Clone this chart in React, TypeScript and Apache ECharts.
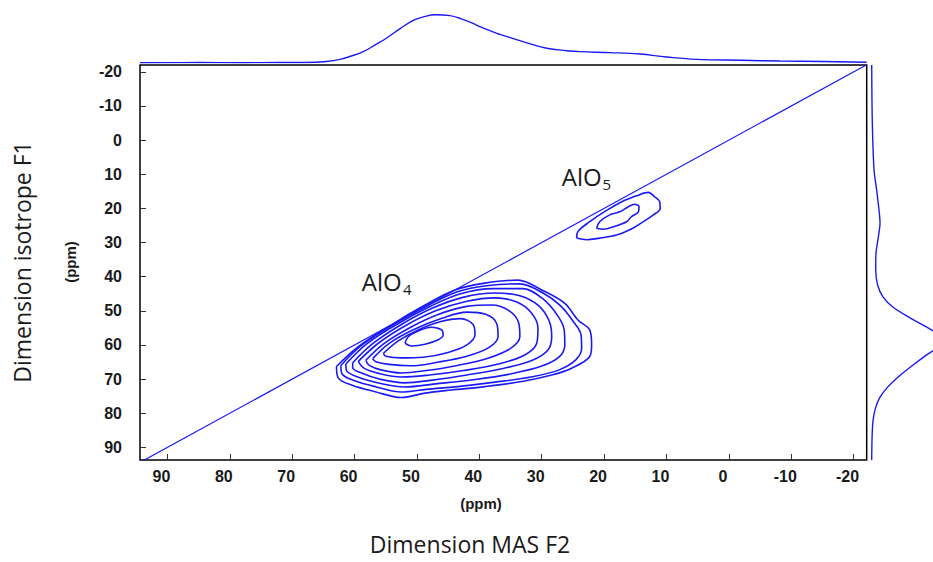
import React, { useEffect, useRef } from "react";
import * as echarts from "echarts";

// Axis ticks (ppm)
const tickValues = [-20, -10, 0, 10, 20, 30, 40, 50, 60, 70, 80, 90];
const f2Min = -22.1;
const f2Max = 94.4;
const f1Min = -22;
const f1Max = 93.7;

// Diagonal (F1 = F2)
const diagonal = [
  [-22.1, -22.1],
  [94.4, 94.4],
];

// Top projection (F2 ppm, relative intensity)
const topProjection = [
  [94.4, 0], [85, 0.3], [78, 0], [72, 0.4], [67.7, 0.3], [64.5, 2.5], [62.3, 7], [60.5, 14],
  [58.6, 23], [56.7, 37], [54.9, 51], [52.7, 71], [50.6, 88], [48.8, 96], [47.1, 100],
  [44.7, 98], [43, 92], [41.0, 82], [39.9, 75], [37.2, 61], [36.7, 59], [33.0, 44],
  [29.2, 30], [26, 25], [23.9, 23], [19, 21], [14.3, 18], [10, 12], [5.2, 7],
  [-2, 5], [-8.2, 3.5], [-15, 2.5], [-22.1, 1],
];

// Right projection (relative intensity, F1 ppm)
const rightProjection = [
  [0, -22], [0.9, -5], [3.3, 8.7], [7, 14.6], [10.8, 21.3], [11.8, 24.3], [9.4, 28.4],
  [6.1, 33.1], [5.7, 38], [8.5, 42.5], [16, 45.9], [30, 48.9], [52, 51.8],
  [80, 55.0], [96, 57.2], [100, 58.8], [96, 60.4], [80, 62.6], [56, 66.3], [38, 69.3],
  [22, 72.5], [11, 75.6], [5, 78.8], [2, 82], [0.6, 86.5], [0, 93.7],
];

// AlO4 contours (F2 ppm, F1 ppm), inner to outer
const alo4Level1 = [
  [51.9, 59.5], [51.4, 57.6], [49.8, 55.9], [47.65, 54.8], [46.05, 55.6], [45.8, 57.1],
  [46.6, 58.5], [48.7, 59.8], [50.9, 60.3], [51.9, 59.5],
];
const alo4Level2 = [
  [55.4, 62.5], [53.0, 58.8], [49.8, 55.6], [46.3, 53.2], [43.0, 52.3], [41.0, 54.0],
  [40.7, 57.0], [42.0, 60.0], [45.0, 62.2], [49.0, 63.6], [52.5, 63.8], [55.0, 63.3],
  [55.4, 62.5],
];
const alo4Level3 = [
  [57.1, 64.0], [54.5, 59.6], [50.5, 55.5], [46.0, 52.2], [42.0, 50.4], [39.0, 51.0],
  [37.2, 53.8], [37.0, 57.5], [38.5, 60.8], [42.0, 63.3], [46.5, 65.0], [51.0, 66.1],
  [54.5, 65.7], [56.6, 64.9], [57.1, 64.0],
];
const alo4Level4 = [
  [58.2, 64.5], [55.3, 59.6], [51.0, 54.8], [46.5, 51.0], [42.0, 48.7], [38.0, 48.3],
  [35.2, 50.0], [33.7, 53.5], [33.5, 57.5], [35.0, 61.0], [38.5, 63.8], [43.5, 66.0],
  [48.5, 67.5], [52.5, 68.2], [55.8, 67.3], [57.7, 65.9], [58.2, 64.5],
];
const alo4Level5 = [
  [59.4, 64.8], [56.2, 59.5], [51.8, 54.3], [47.0, 50.0], [42.0, 47.2], [37.5, 46.2],
  [34.0, 47.4], [31.7, 50.5], [30.6, 55.0], [30.8, 59.5], [32.8, 63.0], [37.0, 65.6],
  [42.5, 67.5], [48.0, 68.8], [52.5, 69.4], [56.0, 68.4], [58.5, 66.8], [59.4, 64.8],
];
const alo4Level6 = [
  [60.3, 65.2], [57.0, 59.5], [52.3, 53.8], [47.5, 49.2], [42.5, 46.0], [37.5, 44.8],
  [33.5, 45.6], [30.5, 48.5], [28.8, 53.0], [28.4, 57.5], [29.0, 61.5], [31.5, 64.5],
  [36.0, 66.8], [42.0, 68.8], [47.5, 70.3], [52.0, 71.1], [56.0, 70.0], [58.8, 68.3],
  [60.3, 66.7], [60.3, 65.2],
];
const alo4Level7 = [
  [61.4, 65.6], [58.0, 59.6], [53.0, 53.7], [48.0, 48.8], [43.0, 45.0], [37.8, 43.5],
  [33.0, 43.5], [29.8, 46.5], [27.6, 51.0], [26.4, 55.5], [26.3, 60.0], [27.2, 63.5],
  [30.0, 66.2], [35.0, 68.5], [41.0, 70.2], [47.0, 71.4], [52.0, 72.3], [56.0, 71.2],
  [59.5, 69.4], [61.3, 67.5], [61.4, 65.6],
];
const alo4Level8 = [
  [62.2, 66.0], [58.8, 60.0], [53.6, 53.8], [48.3, 48.5], [43.5, 44.4], [38.5, 42.6],
  [33.5, 42.1], [29.8, 44.8], [27.0, 48.5], [25.0, 53.0], [23.7, 57.0], [23.6, 61.0],
  [24.5, 64.3], [27.2, 67.3], [31.5, 69.3], [37.5, 70.9], [43.5, 72.2], [48.5, 73.0],
  [52.5, 73.8], [56.5, 72.3], [60.0, 70.5], [62.0, 68.5], [62.2, 66.0],
];
const alo4Level9 = [
  [62.9, 66.3], [59.4, 60.5], [54.1, 54.1], [48.7, 48.3], [43.9, 43.9], [39.1, 41.9],
  [33.8, 41.0], [30.0, 43.9], [26.3, 47.8], [24.2, 52.7], [22.3, 55.6], [22.0, 60.0],
  [22.3, 63.4], [25.2, 66.8], [28.4, 68.8], [33.2, 70.7], [39.1, 72.2], [44.5, 73.2],
  [48.7, 74.1], [52.5, 75.4], [56.7, 73.7], [60.5, 71.7], [62.6, 69.7], [62.9, 66.3],
];

// AlO5 contours (F2 ppm, F1 ppm)
const alo5Inner = [
  [21.2, 25.8], [20.7, 23.9], [19.1, 21.9], [17.5, 21.0], [16.1, 19.5], [15.1, 18.8],
  [14.4, 19.5], [14.5, 21.0], [15.6, 22.4], [16.4, 23.9], [18.5, 25.4], [20.2, 26.1],
  [21.2, 25.8],
];
const alo5Outer = [
  [24.4, 28.7], [24.2, 26.8], [22.3, 23.9], [19.6, 20.6], [17.0, 17.9], [14.8, 16.3],
  [12.9, 15.3], [11.9, 16.6], [11.1, 18.0], [11.0, 20.0], [12.1, 21.9], [13.7, 23.9],
  [15.4, 25.8], [18.0, 27.8], [20.7, 28.7], [22.8, 29.2], [24.4, 28.7],
];

const alo4Contours = [
  alo4Level1, alo4Level2, alo4Level3, alo4Level4, alo4Level5,
  alo4Level6, alo4Level7, alo4Level8, alo4Level9,
];
const alo5Contours = [alo5Inner, alo5Outer];

const BLUE = "#1a1af5";

export default function App() {
  const ref = useRef<HTMLDivElement>(null);

  useEffect(() => {
    if (!ref.current) return;
    const chart = echarts.init(ref.current, undefined, { renderer: "svg" });

    const lineSeries = (
      name: string,
      data: number[][],
      idx: number,
      width: number,
      smooth: number | boolean
    ) => ({
      type: "line",
      name,
      data,
      xAxisIndex: idx,
      yAxisIndex: idx,
      showSymbol: false,
      symbol: "none",
      smooth,
      clip: true,
      silent: true,
      lineStyle: { color: BLUE, width },
    });

    const tickLabel = {
      fontFamily: "'Liberation Sans', Arial, sans-serif",
      fontWeight: "bold" as const,
      fontSize: 16,
      color: "#1a1a1a",
    };

    const series: any[] = [];
    series.push(lineSeries("diagonal", diagonal, 0, 1.2, false));
    alo4Contours.forEach((c, i) => series.push(lineSeries("AlO4-" + (i + 1), c, 0, 1.6, 0.35)));
    alo5Contours.forEach((c, i) => series.push(lineSeries("AlO5-" + (i + 1), c, 0, 1.6, 0.35)));
    series.push(lineSeries("F2 projection", topProjection, 1, 1.4, 0.4));
    series.push(lineSeries("F1 projection", rightProjection, 2, 1.4, 0.3));

    const option: any = {
      animation: false,
      backgroundColor: "#ffffff",
      grid: [
        {
          left: 140,
          top: 65,
          width: 726.7,
          height: 395,
          show: true,
          borderColor: "#000",
          borderWidth: 1.5,
          backgroundColor: "transparent",
        },
        { left: 140, top: 14.7, width: 726.7, height: 48 },
        { left: 871.7, top: 65, width: 61.3, height: 395 },
      ],
      xAxis: [
        {
          type: "value",
          gridIndex: 0,
          min: f2Min,
          max: f2Max,
          inverse: true,
          position: "bottom",
          axisLine: { show: false, onZero: false },
          splitLine: { show: false },
          axisTick: {
            show: true,
            inside: true,
            length: 6,
            customValues: tickValues,
            lineStyle: { color: "#333", width: 1 },
          },
          axisLabel: {
            ...tickLabel,
            customValues: tickValues,
            margin: 8,
            padding: [0, 12, 0, 0],
            formatter: (v: number) => String(v),
          },
        },
        { type: "value", gridIndex: 1, min: f2Min, max: f2Max, inverse: true, show: false },
        { type: "value", gridIndex: 2, min: 0, max: 87, show: false },
      ],
      yAxis: [
        {
          type: "value",
          gridIndex: 0,
          min: f1Min,
          max: f1Max,
          inverse: true,
          position: "left",
          axisLine: { show: false, onZero: false },
          splitLine: { show: false },
          axisTick: {
            show: true,
            inside: true,
            length: 6,
            customValues: tickValues,
            lineStyle: { color: "#333", width: 1 },
          },
          axisLabel: {
            ...tickLabel,
            customValues: tickValues,
            margin: 18,
            padding: [0, 0, 5, 0],
            formatter: (v: number) => String(v),
          },
        },
        { type: "value", gridIndex: 1, min: 0, max: 100, show: false },
        { type: "value", gridIndex: 2, min: f1Min, max: f1Max, inverse: true, show: false },
      ],
      series,
      graphic: [
        {
          type: "text",
          x: 481,
          y: 503,
          style: {
            text: "(ppm)",
            font: "bold 15px 'Liberation Sans', Arial, sans-serif",
            fill: "#1a1a1a",
            align: "center",
            verticalAlign: "middle",
          },
        },
        {
          type: "text",
          x: 70,
          y: 262,
          rotation: Math.PI / 2,
          style: {
            text: "(ppm)",
            font: "bold 15px 'Liberation Sans', Arial, sans-serif",
            fill: "#1a1a1a",
            align: "center",
            verticalAlign: "middle",
          },
        },
        {
          type: "text",
          x: 470,
          y: 544,
          style: {
            text: "Dimension MAS F2",
            font: "23px 'Open Sans', sans-serif",
            fill: "#1a1a1a",
            align: "center",
            verticalAlign: "middle",
          },
        },
        {
          type: "text",
          x: 22,
          y: 262,
          rotation: Math.PI / 2,
          style: {
            text: "Dimension isotrope F1",
            font: "23px 'Open Sans', sans-serif",
            fill: "#1a1a1a",
            align: "center",
            verticalAlign: "middle",
          },
        },
        {
          type: "text",
          x: 361.7,
          y: 281,
          style: {
            text: "AlO",
            font: "24px 'Open Sans', sans-serif",
            fill: "#1a1a1a",
            align: "left",
            verticalAlign: "middle",
          },
        },
        {
          type: "text",
          x: 403,
          y: 289,
          style: {
            text: "4",
            font: "15px 'Open Sans', sans-serif",
            fill: "#1a1a1a",
            align: "left",
            verticalAlign: "middle",
          },
        },
        {
          type: "text",
          x: 561.7,
          y: 176.7,
          style: {
            text: "AlO",
            font: "24px 'Open Sans', sans-serif",
            fill: "#1a1a1a",
            align: "left",
            verticalAlign: "middle",
          },
        },
        {
          type: "text",
          x: 602.5,
          y: 184,
          style: {
            text: "5",
            font: "15px 'Open Sans', sans-serif",
            fill: "#1a1a1a",
            align: "left",
            verticalAlign: "middle",
          },
        },
      ],
    };

    chart.setOption(option);
    return () => chart.dispose();
  }, []);

  return (
    <div
      ref={ref}
      style={{ position: "fixed", left: 0, top: 0, width: 933, height: 562, background: "#fff" }}
    />
  );
}
